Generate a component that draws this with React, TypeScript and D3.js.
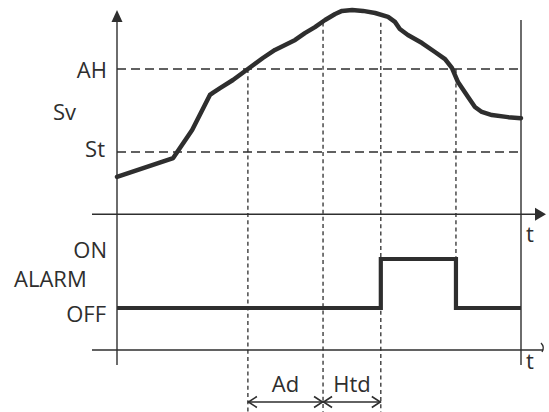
import React from "react";
import * as d3 from "d3";

// Process value (Sv) over time
const curveTimes = [0, 1.39, 1.86, 2.3, 2.38, 2.55, 2.87, 3.24, 3.61, 3.91, 4.16, 4.41, 4.65, 4.9, 5.15, 5.4, 5.57, 5.82, 6.09, 6.39, 6.71, 6.88, 7.0, 7.2, 7.55, 7.87, 8.12, 8.29, 8.44, 8.69, 8.86, 9.03, 9.28, 9.68, 10];
const curveValues = [18, 27.1, 40.6, 57.5, 58.6, 60.8, 64.7, 70, 75.3, 79.2, 81.6, 84, 87.3, 90.2, 93.6, 96.5, 98, 98.4, 98, 97, 95.1, 92.7, 89.3, 86.4, 82.5, 78.2, 74.8, 70.5, 63.7, 56.5, 51.7, 49.3, 47.8, 46.8, 46.3];

// Thresholds
const thresholdNames = ["AH", "St"];
const thresholdValues = [70, 30];

// Event times: AH crossed, Ad elapsed, alarm ON, alarm OFF
const eventNames = ["crossAH", "adEnd", "alarmOn", "alarmOff"];
const eventTimes = [3.24, 5.1, 6.53, 8.39];

// Alarm states
const alarmStates = ["OFF", "ON"];
const alarmLevels = [0, 1];

// Interval labels
const intervalLabels = ["Ad", "Htd"];

const W = 549;
const H = 412;
const INK = "#2e2e2e";
const FONT = "'Open Sans', 'Noto Sans', sans-serif";

export default function App() {
  const x = d3.scaleLinear().domain([0, 10]).range([117, 521]);
  const y = d3.scaleLinear().domain([0, 100]).range([214.25, 6.75]);
  const ya = d3.scaleLinear().domain([0, 1]).range([308, 259]);

  const tAH = eventTimes[0];
  const tAd = eventTimes[1];
  const tOn = eventTimes[2];
  const tOff = eventTimes[3];

  const curvePts: [number, number][] = curveTimes.map((t, i) => [t, curveValues[i]]);
  const curveLine = d3
    .line<[number, number]>()
    .x((d) => x(d[0]))
    .y((d) => y(d[1]))
    .curve(d3.curveLinear);

  const alarmPts: [number, number][] = [
    [0, alarmLevels[0]],
    [tOn, alarmLevels[1]],
    [tOff, alarmLevels[0]],
    [10, alarmLevels[0]],
  ];
  const alarmLine = d3
    .line<[number, number]>()
    .x((d) => x(d[0]))
    .y((d) => ya(d[1]))
    .curve(d3.curveStepAfter);

  const valueAt = (t: number) => {
    const interp = d3.scaleLinear().domain(curveTimes).range(curveValues);
    return interp(t);
  };

  const axisY0 = y(0); // upper time axis
  const lowerAxisY = 350;
  const axisLeft = 92;
  const axisRight = 546;
  const yTop = 10;
  const yBottom = 365;
  const arrowY = 402;

  const dotted = "4 3.2";
  const dashed = "9 5";

  const verticals = [
    { t: tAH, y1: y(thresholdValues[0]), y2: H },
    { t: tAd, y1: y(valueAt(tAd)) + 1, y2: H },
    { t: tOn, y1: y(valueAt(tOn)) + 8, y2: H },
    { t: tOff, y1: y(thresholdValues[0]), y2: ya(1) },
  ];

  const dblArrow = (x1: number, x2: number, key: string) => {
    const a = 9;
    const h = 5.5;
    return (
      <g key={key} stroke={INK} strokeWidth={1.6} fill="none">
        <line x1={x1} y1={arrowY} x2={x2} y2={arrowY} />
        <path d={`M${x1 + a},${arrowY - h} L${x1 + 0.5},${arrowY} L${x1 + a},${arrowY + h}`} />
        <path d={`M${x2 - a},${arrowY - h} L${x2 - 0.5},${arrowY} L${x2 - a},${arrowY + h}`} />
      </g>
    );
  };

  const textStyle = { fontFamily: FONT, fontSize: 22, fill: INK } as const;

  return (
    <svg
      width={W}
      height={H}
      viewBox={`0 0 ${W} ${H}`}
      style={{ position: "absolute", left: 0, top: 0, background: "#fff" }}
    >
      <rect width={W} height={H} fill="#fff" />

      {/* threshold dashed lines */}
      {thresholdValues.map((v, i) => (
        <line
          key={thresholdNames[i]}
          x1={x(0)}
          x2={x(10)}
          y1={y(v)}
          y2={y(v)}
          stroke={INK}
          strokeWidth={1.3}
          strokeDasharray={dashed}
        />
      ))}

      {/* event verticals */}
      {verticals.map((v, i) => (
        <line
          key={eventNames[i]}
          x1={x(v.t)}
          x2={x(v.t)}
          y1={v.y1}
          y2={v.y2}
          stroke={INK}
          strokeWidth={1.3}
          strokeDasharray={dotted}
        />
      ))}

      {/* axes */}
      <line x1={x(0)} x2={x(0)} y1={yTop + 8} y2={yBottom} stroke={INK} strokeWidth={1.4} />
      <path d={`M${x(0)},${yTop} L${x(0) - 5.5},${yTop + 12} L${x(0) + 5.5},${yTop + 12} Z`} fill={INK} />
      <line x1={x(10)} x2={x(10)} y1={20} y2={yBottom} stroke={INK} strokeWidth={1.4} />

      <line x1={axisLeft} x2={axisRight - 6} y1={axisY0} y2={axisY0} stroke={INK} strokeWidth={1.4} />
      <path d={`M${axisRight},${axisY0} L${axisRight - 11},${axisY0 - 6.5} L${axisRight - 11},${axisY0 + 6.5} Z`} fill={INK} />
      <line x1={axisLeft} x2={axisRight - 3} y1={lowerAxisY} y2={lowerAxisY} stroke={INK} strokeWidth={1.4} />
      <path
        d={`M${axisRight - 5},${lowerAxisY - 7} Q${axisRight - 1},${lowerAxisY - 3} ${axisRight - 4},${lowerAxisY + 2}`}
        stroke={INK}
        strokeWidth={1.3}
        fill="none"
      />

      {/* process curve */}
      <path d={curveLine(curvePts) || ""} fill="none" stroke={INK} strokeWidth={4.5} strokeLinejoin="round" strokeLinecap="round" />

      {/* alarm signal */}
      <path d={alarmLine(alarmPts) || ""} fill="none" stroke={INK} strokeWidth={4.2} strokeLinejoin="miter" />

      {/* interval arrows */}
      {dblArrow(x(tAH), x(tAd), "ad")}
      {dblArrow(x(tAd), x(tOn), "htd")}

      {/* labels */}
      <text x={107} y={y(thresholdValues[0]) + 9} textAnchor="end" style={textStyle}>{thresholdNames[0]}</text>
      <text x={53} y={120} style={textStyle}>Sv</text>
      <text x={105} y={y(thresholdValues[1]) + 5} textAnchor="end" style={textStyle}>{thresholdNames[1]}</text>

      <text x={107} y={ya(1) - 1} textAnchor="end" style={textStyle}>{alarmStates[1]}</text>
      <text x={14} y={287} style={textStyle}>ALARM</text>
      <text x={106} y={ya(0) + 14} textAnchor="end" style={textStyle}>{alarmStates[0]}</text>

      <text x={526} y={242} style={textStyle}>t</text>
      <text x={526} y={369} style={textStyle}>t</text>

      <text x={(x(tAH) + x(tAd)) / 2} y={392} textAnchor="middle" style={textStyle}>{intervalLabels[0]}</text>
      <text x={(x(tAd) + x(tOn)) / 2} y={392} textAnchor="middle" style={textStyle}>{intervalLabels[1]}</text>
    </svg>
  );
}
